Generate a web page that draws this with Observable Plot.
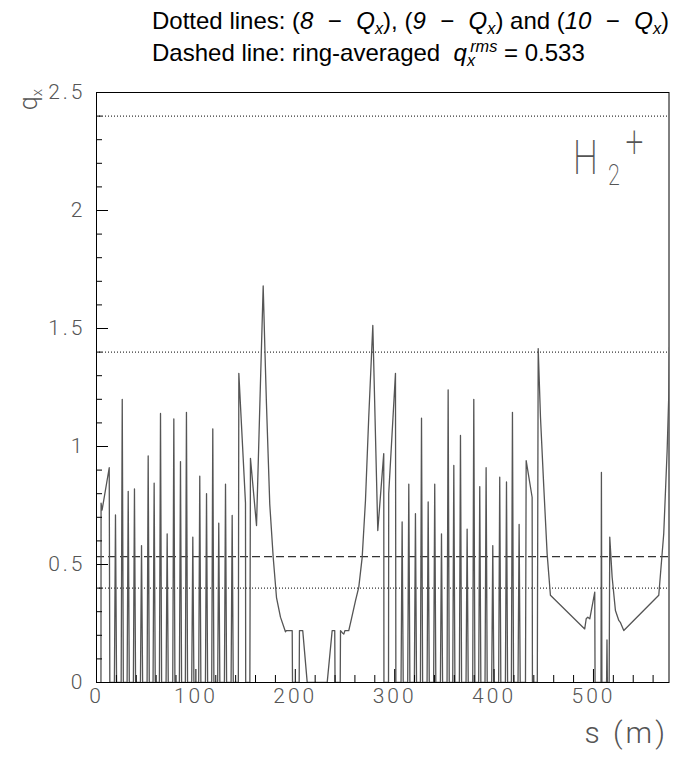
<!DOCTYPE html>
<html>
<head>
<meta charset="utf-8">
<script src="https://cdn.jsdelivr.net/npm/d3@7"></script>
<script src="https://cdn.jsdelivr.net/npm/@observablehq/plot@0.6"></script>
<style>
  html, body { margin: 0; padding: 0; background: #fff; }
  #wrap { position: relative; width: 673px; height: 757px; }
  #title { position: absolute; left: 152px; top: 5px; font-family: "Liberation Sans", Arial, sans-serif; font-size: 24px; line-height: 32px; color: #000; white-space: nowrap; }
  #title sub, #title sup { font-size: 0.68em; line-height: 0; }
  #title sub { vertical-align: -0.3em; }
  #title sup { vertical-align: 0.55em; }
  #title .m { margin: 0 0.6em; }
  g[aria-label="y-axis tick label"] text, g[aria-label="x-axis tick label"] text { letter-spacing: 3px; }
</style>
</head>
<body>
<div id="wrap">
  <div id="title">Dotted lines: (<i>8</i><span class="m">−</span><i>Q<sub>x</sub></i>), (<i>9</i><span class="m">−</span><i>Q<sub>x</sub></i>) and (<i>10</i><span class="m">−</span><i>Q<sub>x</sub></i>)<br>Dashed line: ring-averaged&nbsp; <i>q<sub>x</sub><sup style="margin-left:-0.3em">rms</sup></i> = 0.533</div>
  <div id="chart"></div>
</div>
<script>
// ---- data: vertices of the q_x(s) curve ----
const sPts = [
  4.5, 4.6, 5.6, 12.8, 13.4,
  18.0, 19.1, 20.2,
  24.8, 25.9, 27.0,
  30.8, 31.9, 33.0,
  37.1, 38.2, 39.3,
  44.2, 45.3, 46.4,
  50.9, 52.0, 53.1,
  56.9, 58.0, 59.1,
  63.3, 64.4, 65.5,
  70.0, 71.1, 72.2,
  76.7, 77.8, 78.9,
  83.4, 84.5, 85.6,
  89.4, 90.5, 91.6,
  95.8, 96.9, 98.0,
  102.8, 103.9, 105.0,
  109.6, 110.7, 111.8,
  115.9, 117.0, 118.1,
  121.9, 123.0, 124.1,
  128.7, 129.8, 130.9,
  135.4, 136.5, 137.6,
  142.7, 143.2, 149.9, 150.1, 154.3, 154.9, 161.0, 164.5, 167.7, 169.5, 171.0, 174.3, 177.8, 181.1, 185.1, 190.1, 191.0, 196.9, 197.2,
  203.9, 204.2, 207.5, 212.0, 232.1, 237.1, 239.7, 240.0, 245.2, 245.5, 247.5, 248.8, 250.0, 253.8, 256.5, 260.6, 263.9, 267.3, 270.6, 273.9, 278.0,
  283.0, 289.0, 289.2, 293.8, 294.0, 300.8, 301.2,
  306.4, 307.5, 308.6,
  313.1, 314.2, 315.3,
  319.8, 320.9, 322.0,
  325.9, 327.0, 328.1,
  332.6, 333.7, 334.8,
  339.2, 340.3, 341.4,
  346.0, 347.1, 348.2,
  352.7, 353.8, 354.9,
  358.4, 359.5, 360.6,
  365.1, 366.2, 367.3,
  371.8, 372.9, 374.0,
  378.5, 379.6, 380.7,
  384.5, 385.6, 386.7,
  390.9, 392.0, 393.1,
  397.6, 398.7, 399.8,
  404.6, 405.7, 406.8,
  411.4, 412.5, 413.6,
  417.4, 418.5, 419.6,
  424.1, 425.2, 426.3,
  431.6, 432.3, 438.3, 438.6, 443.5, 444.4, 446.7, 450.0, 453.4, 456.7,
  491.2, 492.7, 494.3, 496.3, 501.3, 501.6, 507.6, 508.0, 508.5, 513.2, 513.6, 514.0, 515.8, 516.4,
  518.8, 522.1, 525.5, 527.0, 530.5, 565.7, 570.7, 574.1, 575.8, 576.5
];
const qPts = [
  0, 0.76, 0.73, 0.91, 0,
  0, 0.71, 0,
  0, 1.20, 0,
  0, 0.81, 0,
  0, 0.82, 0,
  0, 0.58, 0,
  0, 0.96, 0,
  0, 0.845, 0,
  0, 1.14, 0,
  0, 0.63, 0,
  0, 1.117, 0,
  0, 0.936, 0,
  0, 1.145, 0,
  0, 0.616, 0,
  0, 0.874, 0,
  0, 0.80, 0,
  0, 1.075, 0,
  0, 0.675, 0,
  0, 0.84, 0,
  0, 0.708, 0,
  0, 1.31, 0.76, 0, 0, 0.95, 0.665, 1.2, 1.68, 1.4, 1.18, 0.757, 0.53, 0.36, 0.277, 0.215, 0.22, 0.22, 0,
  0, 0.22, 0.22, 0, 0, 0.22, 0.22, 0, 0, 0.22, 0.21, 0.205, 0.22, 0.22, 0.27, 0.347, 0.404, 0.53, 0.77, 1.124, 1.513,
  0.644, 0.97, 0, 0, 0.80, 1.31, 0,
  0, 0.68, 0,
  0, 0.84, 0,
  0, 0.715, 0,
  0, 1.12, 0,
  0, 0.765, 0,
  0, 0.84, 0,
  0, 0.63, 0,
  0, 1.24, 0,
  0, 0.92, 0,
  0, 1.047, 0,
  0, 0.65, 0,
  0, 1.20, 0,
  0, 0.83, 0,
  0, 0.91, 0,
  0, 0.58, 0,
  0, 0.87, 0,
  0, 0.85, 0,
  0, 1.145, 0,
  0, 0.67, 0,
  0, 0.94, 0.785, 0, 0, 1.415, 1.124, 0.83, 0.545, 0.37,
  0.227, 0.27, 0.277, 0.27, 0.383, 0, 0, 0.89, 0, 0, 0.18, 0, 0, 0.616,
  0.446, 0.305, 0.263, 0.255, 0.22, 0.37, 0.63, 0.98, 1.22, 1.42
];
const resonanceLevels = [0.4, 1.4, 2.4];   // (8-Qx), (9-Qx), (10-Qx)
const qRms = [0.533];
const xMajor = [0, 100, 200, 300, 400, 500];
const xMinor = [20, 40, 60, 80, 120, 140, 160, 180, 220, 240, 260, 280, 320, 340, 360, 380, 420, 440, 460, 480, 520, 540, 560];
const yMajor = [0, 0.5, 1, 1.5, 2, 2.5];
const yMinor = [0.1, 0.2, 0.3, 0.4, 0.6, 0.7, 0.8, 0.9, 1.1, 1.2, 1.3, 1.4, 1.6, 1.7, 1.8, 1.9, 2.1, 2.2, 2.3, 2.4];
const xDomain = [0, 576];
const yDomain = [0, 2.5];

// ---- layout ----
const W = 673, H = 757;
const mL = 96, mR = 4.5, mT = 92, mB = 75;
const plotW = W - mL - mR, plotH = H - mT - mB;
const labelGrey = "#555";

const curve = sPts.map((s, i) => ({s, q: qPts[i]}));

const chart = Plot.plot({
  width: W, height: H,
  marginLeft: mL, marginRight: mR, marginTop: mT, marginBottom: mB,
  style: {background: "transparent", fontFamily: "Roboto, 'DejaVu Sans', sans-serif", overflow: "visible"},
  x: {domain: xDomain},
  y: {domain: yDomain},
  marks: [
    Plot.ruleY(resonanceLevels, {stroke: "#000", strokeWidth: 1, strokeDasharray: "1,2"}),
    Plot.ruleY(qRms, {stroke: "#000", strokeWidth: 1, strokeDasharray: "8,4"}),
    Plot.line(curve, {x: "s", y: "q", stroke: "#555", strokeWidth: 1.3, clip: true}),
    Plot.tickY(yMajor, {y: d => d, stroke: "#000", insetRight: plotW - 12}),
    Plot.tickY(yMinor, {y: d => d, stroke: "#000", insetRight: plotW - 6}),
    Plot.tickX(xMajor, {x: d => d, stroke: "#000", insetTop: plotH - 13}),
    Plot.tickX(xMinor, {x: d => d, stroke: "#000", insetTop: plotH - 7}),
    Plot.frame({stroke: "#000", strokeWidth: 1}),
    Plot.axisY(yMajor, {tickSize: 0, tickPadding: 11, tickFormat: d => String(d), fontSize: 21, fontWeight: 300, fill: labelGrey, label: null}),
    Plot.axisX(xMajor, {tickSize: 0, tickPadding: 6, tickFormat: d => String(d), fontSize: 21, fontWeight: 300, fill: labelGrey, label: null})
  ]
});
document.getElementById("chart").appendChild(chart);

// ---- extra labels ----
const svg = d3.select(chart);
const yl = svg.append("text")
  .attr("transform", "translate(37,89) rotate(-90)")
  .attr("text-anchor", "end")
  .attr("font-size", 25).attr("font-weight", 300).attr("fill", labelGrey)
  .attr("font-family", "Roboto, sans-serif");
yl.append("tspan").text("q");
yl.append("tspan").attr("dy", 5).attr("font-size", 15).text("x");

svg.append("text")
  .attr("x", 668).attr("y", 743)
  .attr("text-anchor", "end")
  .attr("font-size", 30).attr("font-weight", 300).attr("fill", labelGrey)
  .attr("letter-spacing", 3)
  .attr("font-family", "Roboto, sans-serif")
  .text("s (m)");

const h = svg.append("text")
  .attr("transform", "translate(573,174) scale(0.72,1)")
  .attr("text-anchor", "start")
  .attr("font-size", 49).attr("font-weight", 200).attr("fill", labelGrey)
  .attr("font-family", "Roboto, sans-serif");
h.append("tspan").text("H");
h.append("tspan").attr("dx", 14).attr("dy", 11).attr("font-size", 30).text("2");
h.append("tspan").attr("dx", 8).attr("dy", -28).attr("font-size", 44).text("+");
</script>
</body>
</html>
